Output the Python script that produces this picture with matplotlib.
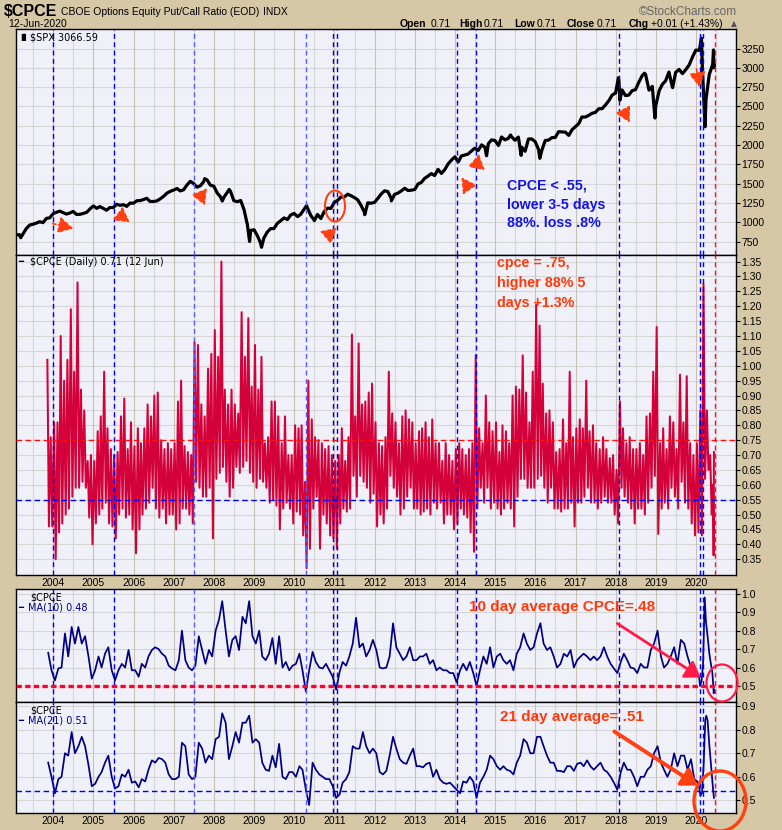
import numpy as np
import pandas as pd
import matplotlib
matplotlib.use("Agg")
import matplotlib.pyplot as plt
from matplotlib.patches import Ellipse, FancyArrowPatch
from matplotlib import font_manager as fm

# ---------------- data ----------------
spx_month_close = [
    841, 848, 917, 964, 975, 990, 1008, 996, 1051, 1058, 1112,
    1131, 1145, 1126, 1107, 1121, 1141, 1102, 1104, 1115, 1130, 1174, 1212,
    1181, 1204, 1181, 1157, 1192, 1191, 1234, 1220, 1229, 1207, 1249, 1248,
    1280, 1281, 1295, 1311, 1270, 1270, 1277, 1304, 1336, 1378, 1401, 1418,
    1438, 1407, 1421, 1482, 1531, 1503, 1455, 1474, 1527, 1549, 1481, 1468,
    1379, 1331, 1323, 1386, 1400, 1280, 1267, 1283, 1166, 969, 896, 903,
    826, 735, 798, 873, 919, 919, 987, 1021, 1057, 1036, 1096, 1115,
    1074, 1104, 1169, 1187, 1089, 1031, 1102, 1049, 1141, 1183, 1181, 1258,
    1286, 1327, 1326, 1364, 1345, 1321, 1292, 1219, 1131, 1253, 1247, 1258,
    1312, 1366, 1408, 1398, 1310, 1362, 1379, 1407, 1441, 1412, 1416, 1426,
    1498, 1515, 1569, 1598, 1631, 1606, 1686, 1633, 1682, 1757, 1806, 1848,
    1783, 1859, 1872, 1884, 1924, 1960, 1931, 2003, 1972, 2018, 2068, 2059,
    1995, 2105, 2068, 2086, 2107, 2063, 2104, 1972, 1920, 2079, 2080, 2044,
    1940, 1932, 2060, 2065, 2097, 2099, 2174, 2171, 2168, 2126, 2199, 2239,
    2279, 2364, 2363, 2384, 2412, 2423, 2470, 2472, 2519, 2575, 2648, 2674,
    2824, 2714, 2641, 2648, 2705, 2718, 2816, 2902, 2914, 2712, 2760, 2507,
    2704, 2784, 2834, 2946, 2752, 2942, 2980, 2926, 2977, 3038, 3141, 3231,
    3226, 2954, 2585, 2912, 3044,
]
spx_month_start = "2003-02"
spx_extra_dates = ["2003-02-05", "2003-03-11", "2007-10-09", "2008-03-17", "2008-05-19",
                   "2008-11-20", "2009-03-09", "2010-04-23", "2010-07-02", "2011-10-03",
                   "2012-06-01", "2014-10-15", "2015-05-21", "2015-08-25", "2016-02-11",
                   "2018-01-26", "2018-02-08", "2018-09-20", "2018-12-24", "2019-06-03",
                   "2020-02-19", "2020-03-23", "2020-06-08", "2020-06-11", "2020-06-12"]
spx_extra_vals = [838, 800, 1565, 1276, 1426, 752, 677, 1217, 1022, 1099, 1278, 1862, 2131,
                  1867, 1829, 2873, 2581, 2931, 2351, 2744, 3386, 2237, 3232, 3002, 3041]

# CPCE daily: monthly spike highs and lows, Nov 2003 .. May 2020
cp_month_start = "2003-11"
cp_hi = [
    1.02, 0.76,
    0.81, 0.81, 1.10, 0.95, 1.02, 1.19, 0.98, 1.28, 0.92, 0.85, 0.68, 0.70,
    0.68, 0.78, 0.83, 0.98, 0.79, 0.72, 0.70, 0.71, 0.83, 0.89, 0.72, 0.81,
    0.73, 0.79, 0.74, 0.79, 0.87, 0.83, 0.90, 0.91, 0.75, 0.72, 0.74, 0.72,
    0.74, 0.88, 0.95, 0.73, 0.71, 0.70, 1.08, 1.07, 0.87, 0.83, 0.99, 1.04,
    1.12, 1.03, 1.35, 0.92, 0.87, 0.92, 0.87, 0.84, 1.18, 1.03, 1.16, 0.93,
    1.07, 0.92, 1.03, 0.74, 0.76, 0.88, 0.88, 0.83, 0.74, 0.83, 0.70, 0.70,
    0.80, 0.79, 0.80, 0.61, 0.95, 0.82, 0.76, 0.75, 0.74, 0.72, 0.73, 0.70,
    0.68, 0.70, 0.79, 0.68, 0.76, 1.105, 0.83, 1.075, 0.87, 0.88, 0.91, 0.94,
    0.81, 0.74, 0.73, 0.76, 0.98, 0.84, 0.81, 0.74, 0.83, 0.85, 0.82, 0.81,
    0.74, 0.78, 0.79, 0.81, 0.76, 0.82, 0.74, 0.74, 0.68, 0.74, 0.70, 0.68,
    0.72, 0.74, 0.72, 0.70, 0.72, 0.74, 1.035, 0.79, 0.74, 0.90, 0.81, 0.78,
    0.81, 0.71, 0.80, 0.78, 0.74, 0.90, 0.93, 0.92, 1.035, 0.91, 0.81, 0.98,
    1.205, 1.135, 0.94, 0.84, 0.85, 0.81, 0.71, 0.72, 0.82, 0.74, 0.98, 0.76,
    0.79, 0.82, 0.79, 0.95, 0.78, 0.80, 0.74, 0.72, 0.76, 0.72, 0.69, 0.70,
    0.65, 0.88, 0.79, 0.74, 0.76, 0.72, 0.72, 0.74, 0.70, 0.83, 0.84, 0.98,
    1.13, 0.74, 0.79, 0.72, 0.83, 0.81, 0.72, 0.97, 0.81, 0.965, 0.74, 0.70,
    0.74, 0.85, 1.275, 0.85, 0.70,
]
cp_lo = [
    0.46, 0.46,
    0.35, 0.44, 0.47, 0.50, 0.52, 0.56, 0.59, 0.59, 0.61, 0.59, 0.49, 0.40,
    0.47, 0.50, 0.52, 0.54, 0.47, 0.46, 0.42, 0.50, 0.52, 0.49, 0.50, 0.45,
    0.37, 0.45, 0.50, 0.52, 0.54, 0.59, 0.52, 0.49, 0.52, 0.47, 0.50, 0.50,
    0.45, 0.47, 0.52, 0.52, 0.50, 0.47, 0.61, 0.59, 0.56, 0.56, 0.59, 0.42,
    0.62, 0.64, 0.66, 0.61, 0.56, 0.59, 0.66, 0.64, 0.66, 0.68, 0.64, 0.61,
    0.59, 0.62, 0.61, 0.59, 0.54, 0.55, 0.53, 0.45, 0.52, 0.54, 0.52, 0.47,
    0.51, 0.50, 0.43, 0.32, 0.385, 0.52, 0.56, 0.385, 0.50, 0.47, 0.43, 0.42,
    0.385, 0.47, 0.52, 0.51, 0.52, 0.63, 0.56, 0.63, 0.61, 0.59, 0.54, 0.57,
    0.46, 0.50, 0.47, 0.52, 0.63, 0.59, 0.56, 0.50, 0.52, 0.56, 0.59, 0.52,
    0.52, 0.50, 0.51, 0.52, 0.50, 0.54, 0.52, 0.54, 0.47, 0.50, 0.50, 0.45,
    0.47, 0.52, 0.50, 0.49, 0.44, 0.375, 0.52, 0.59, 0.54, 0.59, 0.52, 0.54,
    0.52, 0.50, 0.52, 0.54, 0.52, 0.46, 0.56, 0.62, 0.62, 0.59, 0.59, 0.59,
    0.62, 0.63, 0.59, 0.54, 0.59, 0.52, 0.52, 0.51, 0.52, 0.52, 0.54, 0.46,
    0.54, 0.54, 0.56, 0.59, 0.54, 0.54, 0.52, 0.54, 0.56, 0.54, 0.54, 0.50,
    0.47, 0.59, 0.56, 0.54, 0.52, 0.47, 0.52, 0.52, 0.50, 0.54, 0.59, 0.63,
    0.435, 0.52, 0.54, 0.52, 0.59, 0.56, 0.52, 0.61, 0.54, 0.52, 0.47, 0.43,
    0.44, 0.43, 0.62, 0.65, 0.50,
]
cp_end_dates = ["2020-06-03", "2020-06-09", "2020-06-12"]
cp_end_vals = [0.60, 0.363, 0.71]

# 10-day and 21-day averages: monthly readings Nov 2003 .. Dec 2019, then 2020 detail
ma_month_start = "2003-11"
ma10 = [
    0.68, 0.585,
    0.53, 0.595, 0.60, 0.785, 0.66, 0.82, 0.73, 0.82, 0.73, 0.77, 0.66, 0.54,
    0.585, 0.66, 0.60, 0.675, 0.71, 0.585, 0.53, 0.585, 0.62, 0.60, 0.695, 0.585,
    0.585, 0.55, 0.62, 0.60, 0.66, 0.695, 0.71, 0.70, 0.675, 0.66, 0.61, 0.595,
    0.585, 0.64, 0.80, 0.64, 0.60, 0.585, 0.61, 0.77, 0.695, 0.62, 0.695, 0.66,
    0.80, 0.86, 0.96, 0.80, 0.66, 0.75, 0.77, 0.695, 0.875, 0.84, 0.96, 0.77,
    0.73, 0.80, 0.66, 0.64, 0.675, 0.76, 0.62, 0.77, 0.60, 0.63, 0.585, 0.61,
    0.62, 0.675, 0.585, 0.47, 0.585, 0.685, 0.63, 0.60, 0.595, 0.62, 0.585, 0.55,
    0.48, 0.575, 0.63, 0.61, 0.66, 0.73, 0.87, 0.71, 0.73, 0.66, 0.695, 0.75,
    0.695, 0.60, 0.595, 0.60, 0.66, 0.84, 0.71, 0.675, 0.64, 0.66, 0.71, 0.64,
    0.64, 0.66, 0.66, 0.675, 0.62, 0.64, 0.585, 0.60, 0.585, 0.585, 0.57, 0.57,
    0.52, 0.585, 0.62, 0.585, 0.63, 0.57, 0.50, 0.585, 0.66, 0.62, 0.71, 0.60,
    0.66, 0.675, 0.64, 0.62, 0.64, 0.585, 0.675, 0.71, 0.785, 0.73, 0.695, 0.71,
    0.785, 0.84, 0.73, 0.695, 0.71, 0.66, 0.60, 0.62, 0.675, 0.66, 0.695, 0.60,
    0.64, 0.66, 0.675, 0.66, 0.64, 0.66, 0.64, 0.66, 0.71, 0.66, 0.62, 0.595,
    0.57, 0.63, 0.675, 0.64, 0.60, 0.595, 0.57, 0.62, 0.60, 0.60, 0.695, 0.73,
    0.80, 0.66, 0.60, 0.62, 0.66, 0.71, 0.62, 0.75, 0.73, 0.66, 0.60, 0.585,
]
ma21 = [
    0.66, 0.60,
    0.53, 0.59, 0.60, 0.70, 0.69, 0.79, 0.70, 0.73, 0.77, 0.73, 0.65, 0.56,
    0.57, 0.60, 0.62, 0.66, 0.69, 0.60, 0.55, 0.56, 0.61, 0.60, 0.63, 0.575,
    0.58, 0.555, 0.59, 0.58, 0.63, 0.67, 0.66, 0.68, 0.675, 0.66, 0.61, 0.59,
    0.59, 0.60, 0.745, 0.73, 0.61, 0.59, 0.60, 0.745, 0.72, 0.66, 0.69, 0.675,
    0.76, 0.77, 0.87, 0.83, 0.675, 0.73, 0.79, 0.745, 0.83, 0.83, 0.86, 0.745,
    0.76, 0.745, 0.66, 0.63, 0.625, 0.69, 0.64, 0.74, 0.60, 0.59, 0.62, 0.62,
    0.60, 0.645, 0.63, 0.545, 0.48, 0.66, 0.63, 0.61, 0.60, 0.59, 0.59, 0.56,
    0.51, 0.525, 0.575, 0.59, 0.62, 0.73, 0.72, 0.72, 0.79, 0.73, 0.70, 0.72,
    0.70, 0.62, 0.61, 0.625, 0.69, 0.77, 0.72, 0.675, 0.66, 0.655, 0.69, 0.72,
    0.645, 0.645, 0.64, 0.655, 0.66, 0.60, 0.63, 0.59, 0.575, 0.57, 0.575, 0.56,
    0.545, 0.53, 0.58, 0.575, 0.60, 0.58, 0.51, 0.575, 0.60, 0.63, 0.69, 0.675,
    0.645, 0.63, 0.645, 0.63, 0.625, 0.61, 0.66, 0.69, 0.76, 0.745, 0.70, 0.70,
    0.77, 0.77, 0.73, 0.69, 0.66, 0.66, 0.625, 0.625, 0.62, 0.645, 0.645, 0.625,
    0.655, 0.66, 0.645, 0.67, 0.645, 0.63, 0.645, 0.66, 0.63, 0.62, 0.60, 0.575,
    0.545, 0.62, 0.66, 0.63, 0.63, 0.60, 0.56, 0.60, 0.60, 0.63, 0.645, 0.70,
    0.73, 0.66, 0.63, 0.60, 0.63, 0.70, 0.645, 0.69, 0.69, 0.63, 0.675, 0.59,
]
ma10_2020_dates = ["2020-01-10", "2020-01-28", "2020-02-07", "2020-02-21", "2020-03-05",
                   "2020-03-13", "2020-03-20", "2020-03-31", "2020-04-15", "2020-04-30",
                   "2020-05-15", "2020-05-29", "2020-06-05", "2020-06-10", "2020-06-12"]
ma10_2020 = [0.57, 0.55, 0.50, 0.53, 0.62, 0.80, 0.98, 0.85, 0.77, 0.68, 0.62, 0.57, 0.50, 0.46, 0.48]
ma21_2020_dates = ["2020-01-10", "2020-01-28", "2020-02-10", "2020-02-24", "2020-03-10",
                   "2020-03-25", "2020-04-03", "2020-04-15", "2020-04-30", "2020-05-15",
                   "2020-05-29", "2020-06-05", "2020-06-12"]
ma21_2020 = [0.58, 0.56, 0.52, 0.53, 0.65, 0.84, 0.86, 0.84, 0.74, 0.66, 0.58, 0.54, 0.51]

signal_dates_blue = ["2004-01-01", "2005-07-05", "2007-07-01", "2010-04-20", "2010-12-20",
                     "2011-01-22", "2014-01-22", "2014-07-09", "2018-01-30", "2020-02-03",
                     "2020-03-03"]
signal_dates_light = ["2007-07-01", "2010-04-20"]
signal_date_red = "2020-06-20"
years = list(range(2004, 2021))
spx_ticks = list(range(750, 3251, 250))
cp_ticks = [round(0.35 + 0.05 * i, 2) for i in range(21)]
ma10_ticks = [0.5, 0.6, 0.7, 0.8, 0.9, 1.0]
ma21_ticks = [0.5, 0.6, 0.7, 0.8, 0.9]
cp_levels = (0.75, 0.55)
ma10_level = 0.50
ma21_level = 0.54


# ---------------- helpers ----------------
def fyear(dates):
    d = pd.to_datetime(pd.Index(dates))
    return np.asarray(d.year + (d.dayofyear - 1) / 365.25, dtype=float)


def month_starts(start, n):
    return fyear(pd.date_range(start, periods=n, freq="MS"))


# SPX series
sx_m = fyear(pd.date_range(spx_month_start, periods=len(spx_month_close), freq="ME"))
sx = np.concatenate([sx_m, fyear(spx_extra_dates)])
sy = np.concatenate([np.array(spx_month_close, float), np.array(spx_extra_vals, float)])
order = np.argsort(sx)
sx, sy = sx[order], sy[order]

# CPCE zig-zag from monthly spike highs / lows
n = min(len(cp_hi), len(cp_lo))
base = month_starts(cp_month_start, n)
cx = np.empty(2 * n)
cy = np.empty(2 * n)
cx[0::2] = base + 0.25 / 12
cx[1::2] = base + 0.72 / 12
cy[0::2] = cp_hi[:n]
cy[1::2] = cp_lo[:n]
cx = np.concatenate([cx, fyear(cp_end_dates)])
cy = np.concatenate([cy, cp_end_vals])

m10x = np.concatenate([month_starts(ma_month_start, len(ma10)) + 0.5 / 12, fyear(ma10_2020_dates)])
m10y = np.concatenate([ma10, ma10_2020])
m21x = np.concatenate([month_starts(ma_month_start, len(ma21)) + 0.5 / 12, fyear(ma21_2020_dates)])
m21y = np.concatenate([ma21, ma21_2020])

# ---------------- styling ----------------
W, H = 782, 830
BG = "#D6C7A7"
PANEL = "#F0F0F8"
GRID = "#D6D6D6"
GRID_Y = "#C8C2B6"
RED = "#D4003A"
NAVY = "#000080"
ORANGE = "#FF3A0A"

plt.rcParams["font.family"] = ["Liberation Sans", "DejaVu Sans"]


def has_font(name):
    try:
        fm.findfont(fm.FontProperties(family=name), fallback_to_default=False)
        return True
    except Exception:
        return False


NARROW = "Liberation Sans Narrow" if has_font("Liberation Sans Narrow") else None

fig = plt.figure(figsize=(W / 100, H / 100), dpi=100)
fig.patch.set_facecolor(BG)
L, R = 15.5, 736.0
XLIM = (2003.06, 2020.995)


def axrect(top, bot):
    return [L / W, 1 - bot / H, (R - L) / W, (bot - top) / H]


def T(x, y, s, **kw):
    kw.setdefault("va", "center")
    return fig.text(x / W, 1 - y / H, s, **kw)


def P(x, y):
    return (x / W, 1 - y / H)


ax1 = fig.add_axes(axrect(29.5, 255))
ax2 = fig.add_axes(axrect(255, 575))
ax3 = fig.add_axes(axrect(589, 702))
ax4 = fig.add_axes(axrect(702, 813))

ylims = [(577, 3497), (0.297, 1.372), (0.413, 1.026), (0.446, 0.918)]
yticks = [spx_ticks, cp_ticks, ma10_ticks, ma21_ticks]
yfmt = ["{:.0f}", "{:.2f}", "{:.1f}", "{:.1f}"]

for ax, yl, tk, fmt in zip([ax1, ax2, ax3, ax4], ylims, yticks, yfmt):
    ax.set_facecolor(PANEL)
    ax.set_xlim(*XLIM)
    ax.set_ylim(*yl)
    for s in ax.spines.values():
        s.set_color("black")
        s.set_linewidth(1.0)
    ax.yaxis.tick_right()
    ax.set_yticks(tk)
    ax.set_yticklabels([fmt.format(v) for v in tk])
    ax.tick_params(axis="y", direction="out", length=3, width=0.8, labelsize=7.5, pad=1)
    ax.tick_params(axis="x", length=0, labelsize=7.5, pad=2)
    for v in tk:
        ax.axhline(v, color=GRID, lw=0.8, zorder=0)
    for yr in np.arange(2003.5, 2021.0, 0.5):
        ax.axvline(yr, color=GRID_Y if yr % 1 == 0 else GRID, lw=0.8, zorder=0)
    for dstr, d in zip(signal_dates_blue, fyear(signal_dates_blue)):
        light = dstr in signal_dates_light
        ax.axvline(d, color="#5A5AFF" if light else "#0000F0", lw=1.0,
                   ls=(0, (3.5, 2.5)), zorder=4)
    ax.axvline(fyear([signal_date_red])[0], color="#FF1040", lw=1.0, ls=(0, (3.5, 2.5)), zorder=4)

for ax in (ax1, ax3):
    ax.set_xticks([])
for ax in (ax2, ax4):
    ax.set_xticks(years)
    ax.set_xticklabels([str(y) for y in years])

# ---- data ----
ax1.plot(sx, sy, color="black", lw=2.3, zorder=3)
ax2.plot(cx, cy, color=RED, lw=1.45, zorder=3)
ax3.plot(m10x, m10y, color=NAVY, lw=1.25, zorder=3)
ax4.plot(m21x, m21y, color=NAVY, lw=1.25, zorder=3)

ax2.axhline(cp_levels[0], color="#FF1010", lw=1.0, ls=(0, (4, 2.5)), zorder=5)
ax2.axhline(cp_levels[1], color="#0000F0", lw=1.0, ls=(0, (4, 2.5)), zorder=5)
ax3.axhline(ma10_level, color="#FF0033", lw=2.4, ls=(0, (1.6, 1.0)), zorder=5)
ax4.axhline(ma21_level, color="#0000F0", lw=1.0, ls=(0, (4, 2.5)), zorder=5)

# ---------------- header texts ----------------
T(4, 12, "$CPCE", fontsize=11.5, fontweight="bold")
T(61, 12, "CBOE Options Equity Put/Call Ratio (EOD)", fontsize=7.5)
T(263, 12, "INDX", fontsize=7.5)
T(8, 24, "12-Jun-2020", fontsize=7.5)
T(737, 12, "\u00a9StockCharts.com", fontsize=8.5, ha="right", color="#666666")
for x, s, b in [(400, "Open", True), (431, "0.71", False), (459, "High", True), (484, "0.71", False),
                (514, "Low", True), (537, "0.71", False), (567, "Close", True), (597, "0.71", False),
                (629, "Chg", True), (651, "+0.01 (+1.43%)", False)]:
    T(x, 24, s, fontsize=7.5, fontweight="bold" if b else "normal")
T(731, 24, "\u25b2", fontsize=5.5, color="#555555", family="DejaVu Sans")

# panel legends
T(18, 37, "\u2590\u258c", fontsize=5, family="DejaVu Sans")
T(30, 37, "$SPX 3066.59", fontsize=7, family="DejaVu Sans")
T(18, 262, "\u2501", fontsize=6, family="DejaVu Sans")
T(30, 262, "$CPCE (Daily) 0.71 (12 Jun)", fontsize=7, family="DejaVu Sans")
T(30, 597, "$CPCE", fontsize=7, family="DejaVu Sans")
T(18, 607, "\u2501", fontsize=6, family="DejaVu Sans", color=NAVY)
T(28, 607, "MA(10) 0.48", fontsize=7, family="DejaVu Sans", color=NAVY)
T(30, 710, "$CPCE", fontsize=7, family="DejaVu Sans")
T(18, 720, "\u2501", fontsize=6, family="DejaVu Sans", color=NAVY)
T(28, 720, "MA(21) 0.51", fontsize=7, family="DejaVu Sans", color=NAVY)

# ---------------- annotations ----------------
if NARROW:
    akw = dict(family=NARROW, fontweight="bold", fontsize=12.5)
    akw2 = dict(family=NARROW, fontweight="bold", fontsize=13)
else:
    akw = dict(fontweight="bold", fontsize=10.3)
    akw2 = dict(fontweight="bold", fontsize=11)

for y, s in zip([186, 205, 223], ["CPCE < .55,", "lower 3-5 days", "88%. loss .8%"]):
    T(507, y, s, color="#1414E6", **akw)
for y, s in zip([263, 283, 303], ["cpce = .75,", "higher 88% 5", "days +1.3%"]):
    T(497, y, s, color=ORANGE, **akw)
T(469, 607, "10 day average CPCE=.48", color=ORANGE, **akw2)
T(500, 717, "21 day average= .51", color=ORANGE, **akw2)

fig.add_artist(FancyArrowPatch(
    P(615, 622), P(703, 679), transform=fig.transFigure, arrowstyle="-|>,head_length=6,head_width=4",
    color="#FF1A4A", lw=2.0, mutation_scale=1.5))
fig.add_artist(FancyArrowPatch(
    P(612, 730), P(700, 787), transform=fig.transFigure, arrowstyle="-|>,head_length=6,head_width=4",
    color="#FF4010", lw=2.8, mutation_scale=1.5))

fig.add_artist(Ellipse(P(722, 683), 31 / W, 37 / H, transform=fig.transFigure,
                       fill=False, ec="#FF1A4A", lw=1.6))
fig.add_artist(Ellipse(P(720, 801), 52 / W, 60 / H, transform=fig.transFigure,
                       fill=False, ec="#FF4010", lw=2.4))
fig.add_artist(Ellipse(P(335, 206), 20 / W, 31 / H, transform=fig.transFigure,
                       fill=False, ec="#FF4010", lw=1.5))

# small orange signal arrows on the S&P panel
for (x0, y0), (x1, y1) in [((50, 223), (76, 229)), ((117, 213), (132, 224)),
                           ((201, 196), (206, 208)), ((325, 238), (339, 226)),
                           ((468, 187), (460, 175)), ((473, 160), (487, 172)),
                           ((622, 108), (631, 125)), ((696, 66), (700, 90))]:
    fig.add_artist(FancyArrowPatch(
        P(x0, y0), P(x1, y1), transform=fig.transFigure,
        arrowstyle="-|>,head_length=9,head_width=5", color="#FF4010", lw=1.2,
        ls=(0, (2, 1.5)), mutation_scale=1, zorder=6))

fig.savefig("out.png", dpi=100, facecolor=BG)
